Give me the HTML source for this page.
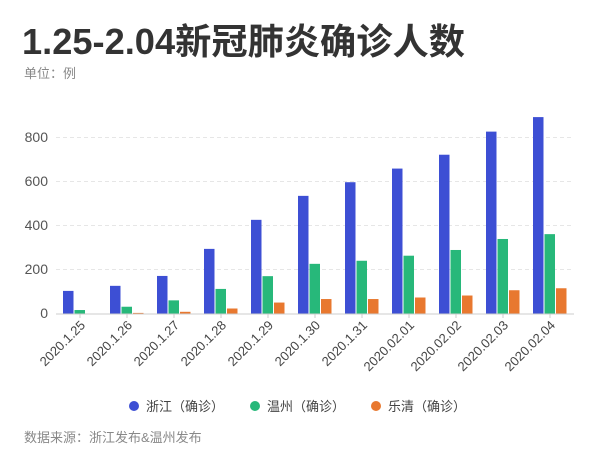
<!DOCTYPE html>
<html><head><meta charset="utf-8"><style>
body{margin:0;background:#fff;width:600px;height:470px;overflow:hidden;font-family:"Liberation Sans","Noto Sans CJK SC",sans-serif}
</style></head><body>
<svg width="600" height="470" xmlns="http://www.w3.org/2000/svg" font-family="Liberation Sans, Noto Sans CJK SC, sans-serif">
<text x="22" y="54" font-size="36" font-weight="bold" fill="#333" textLength="443" lengthAdjust="spacingAndGlyphs">1.25-2.04新冠肺炎确诊人数</text>
<text x="24" y="78" font-size="13" fill="#888">单位：例</text>
<g stroke="#e6e6e6" stroke-dasharray="4,3">
<line x1="56" x2="574" y1="137.5" y2="137.5"/><line x1="56" x2="574" y1="181.5" y2="181.5"/><line x1="56" x2="574" y1="225.5" y2="225.5"/><line x1="56" x2="574" y1="269.5" y2="269.5"/>
</g>
<g font-size="14" fill="#555" text-anchor="end">
<text x="48" y="142">800</text><text x="48" y="186">600</text><text x="48" y="230">400</text><text x="48" y="274">200</text><text x="48" y="318">0</text>
</g>
<g fill="#3d4fd4">
<rect x="63" y="290.9" width="10.5" height="23.1"/>
<rect x="110" y="285.84" width="10.5" height="28.16"/>
<rect x="157" y="275.94" width="10.5" height="38.06"/>
<rect x="204" y="248.88" width="10.5" height="65.12"/>
<rect x="251" y="219.84" width="10.5" height="94.16"/>
<rect x="298" y="195.86" width="10.5" height="118.14"/>
<rect x="345" y="182.22" width="10.5" height="131.78"/>
<rect x="392" y="168.58" width="10.5" height="145.42"/>
<rect x="439" y="154.72" width="10.5" height="159.28"/>
<rect x="486" y="131.62" width="10.5" height="182.38"/>
<rect x="533" y="117.1" width="10.5" height="196.9"/>
</g>
<g fill="#27b87a">
<rect x="74.5" y="310.04" width="10.5" height="3.96"/>
<rect x="121.5" y="306.74" width="10.5" height="7.26"/>
<rect x="168.5" y="300.36" width="10.5" height="13.64"/>
<rect x="215.5" y="288.92" width="10.5" height="25.08"/>
<rect x="262.5" y="276.16" width="10.5" height="37.84"/>
<rect x="309.5" y="263.84" width="10.5" height="50.16"/>
<rect x="356.5" y="260.76" width="10.5" height="53.24"/>
<rect x="403.5" y="255.7" width="10.5" height="58.3"/>
<rect x="450.5" y="249.98" width="10.5" height="64.02"/>
<rect x="497.5" y="238.98" width="10.5" height="75.02"/>
<rect x="544.5" y="234.14" width="10.5" height="79.86"/>
</g>
<g fill="#e8782f">
<rect x="86" y="313.56" width="10.5" height="0.44"/>
<rect x="133" y="312.9" width="10.5" height="1.1"/>
<rect x="180" y="311.8" width="10.5" height="2.2"/>
<rect x="227" y="308.5" width="10.5" height="5.5"/>
<rect x="274" y="302.56" width="10.5" height="11.44"/>
<rect x="321" y="299.04" width="10.5" height="14.96"/>
<rect x="368" y="299.04" width="10.5" height="14.96"/>
<rect x="415" y="297.5" width="10.5" height="16.5"/>
<rect x="462" y="295.52" width="10.5" height="18.48"/>
<rect x="509" y="290.24" width="10.5" height="23.76"/>
<rect x="556" y="288.26" width="10.5" height="25.74"/>
</g>
<line x1="56" x2="574" y1="314" y2="314" stroke="#ccc"/>
<g stroke="#ccc">
<line x1="80" x2="80" y1="314" y2="318"/><line x1="127" x2="127" y1="314" y2="318"/><line x1="174" x2="174" y1="314" y2="318"/><line x1="221" x2="221" y1="314" y2="318"/><line x1="268" x2="268" y1="314" y2="318"/><line x1="315" x2="315" y1="314" y2="318"/><line x1="362" x2="362" y1="314" y2="318"/><line x1="409" x2="409" y1="314" y2="318"/><line x1="456" x2="456" y1="314" y2="318"/><line x1="503" x2="503" y1="314" y2="318"/><line x1="550" x2="550" y1="314" y2="318"/>
</g>
<g font-size="13" fill="#444" text-anchor="end">
<text transform="translate(86,326) rotate(-45)">2020.1.25</text>
<text transform="translate(133,326) rotate(-45)">2020.1.26</text>
<text transform="translate(180,326) rotate(-45)">2020.1.27</text>
<text transform="translate(227,326) rotate(-45)">2020.1.28</text>
<text transform="translate(274,326) rotate(-45)">2020.1.29</text>
<text transform="translate(321,326) rotate(-45)">2020.1.30</text>
<text transform="translate(368,326) rotate(-45)">2020.1.31</text>
<text transform="translate(415,326) rotate(-45)">2020.02.01</text>
<text transform="translate(462,326) rotate(-45)">2020.02.02</text>
<text transform="translate(509,326) rotate(-45)">2020.02.03</text>
<text transform="translate(556,326) rotate(-45)">2020.02.04</text>
</g>
<circle cx="134" cy="406" r="5" fill="#3d4fd4"/><text x="146" y="411" font-size="13" fill="#444">浙江（确诊）</text>
<circle cx="255" cy="406" r="5" fill="#27b87a"/><text x="267" y="411" font-size="13" fill="#444">温州（确诊）</text>
<circle cx="376" cy="406" r="5" fill="#e8782f"/><text x="388" y="411" font-size="13" fill="#444">乐清（确诊）</text>
<text x="24" y="442" font-size="13" fill="#888">数据来源：浙江发布&amp;温州发布</text>
</svg>
</body></html>
